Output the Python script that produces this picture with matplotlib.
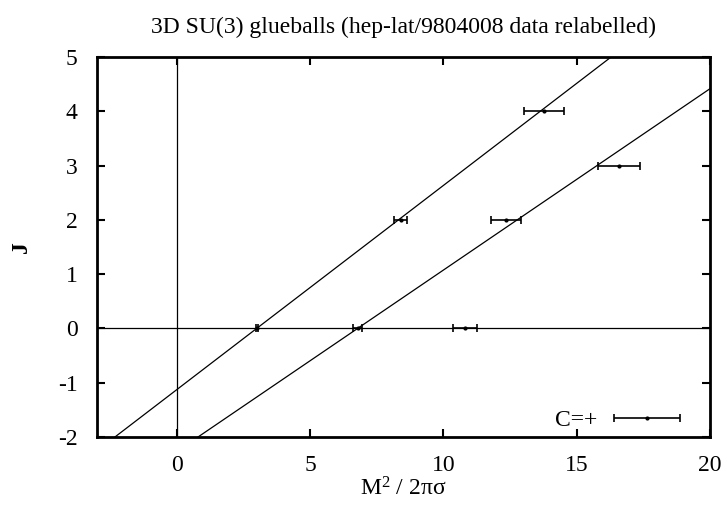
import matplotlib
matplotlib.use("Agg")
import matplotlib.pyplot as plt
from matplotlib.legend_handler import HandlerErrorbar
from matplotlib.container import ErrorbarContainer
import numpy as np

plt.rcParams['font.family'] = ['Liberation Serif', 'DejaVu Serif']
plt.rcParams['mathtext.fontset'] = 'custom'
plt.rcParams['mathtext.rm'] = 'Liberation Serif'
plt.rcParams['mathtext.it'] = 'Liberation Serif:italic'
plt.rcParams['axes.unicode_minus'] = False

# data (M^2/2πσ, J) with horizontal errors
m2 = [3.00, 6.78, 10.79, 8.39, 12.36, 13.78, 16.60]
m2_err = [0.05, 0.17, 0.45, 0.24, 0.56, 0.75, 0.79]
J = [0, 0, 0, 2, 2, 4, 3]

# trajectory lines: J = intercept + slope * x
line_slopes = [0.376, 0.334]
line_intercepts = [-1.125, -2.264]

xticks = [0, 5, 10, 15, 20]
yticks = [-2, -1, 0, 1, 2, 3, 4, 5]

fig = plt.figure(figsize=(7.27, 5.19), dpi=100)
ax = fig.add_axes([97/727, 1-437/519, (710-97)/727, (437-57)/519])
ax.set_xlim(-3, 20)
ax.set_ylim(-2, 5)

ax.axhline(0, color='black', lw=0.9, zorder=1)
ax.axvline(0, color='black', lw=0.9, zorder=1)

xs = np.array([-3, 20])
for s, b in zip(line_slopes, line_intercepts):
    ax.plot(xs, b + s*xs, color='black', lw=0.9, zorder=2)

ax.errorbar(m2, J, xerr=m2_err, fmt='o', color='black', ms=2, lw=1.2,
            capsize=3, capthick=1.2, elinewidth=1.2, label='C=+', zorder=3)

leg = ax.legend(loc='lower right', markerfirst=False, frameon=False,
                fontsize=17, handlelength=3.0, borderaxespad=0.35,
                handletextpad=0.6,
                bbox_to_anchor=(1 - 10/613, -12/380),
                handler_map={ErrorbarContainer: HandlerErrorbar(xerr_size=1.4)})

ax.set_xticks(xticks)
ax.set_yticks(yticks)
ax.tick_params(direction='in', length=6, width=1.5, top=True, right=True,
               labelsize=17)
ax.tick_params(axis='x', pad=13)
ax.tick_params(axis='y', pad=14)
for sp in ax.spines.values():
    sp.set_linewidth(2)

ax.set_xlabel(r'M$^2$ / 2πσ', fontsize=17, labelpad=1)
ax.set_ylabel('J', fontsize=17, fontweight='bold')
ax.yaxis.set_label_coords(-0.106, 0.5)
ax.set_title('3D SU(3) glueballs (hep-lat/9804008 data relabelled)', fontsize=17, pad=17)

fig.savefig('out.png', dpi=100)
